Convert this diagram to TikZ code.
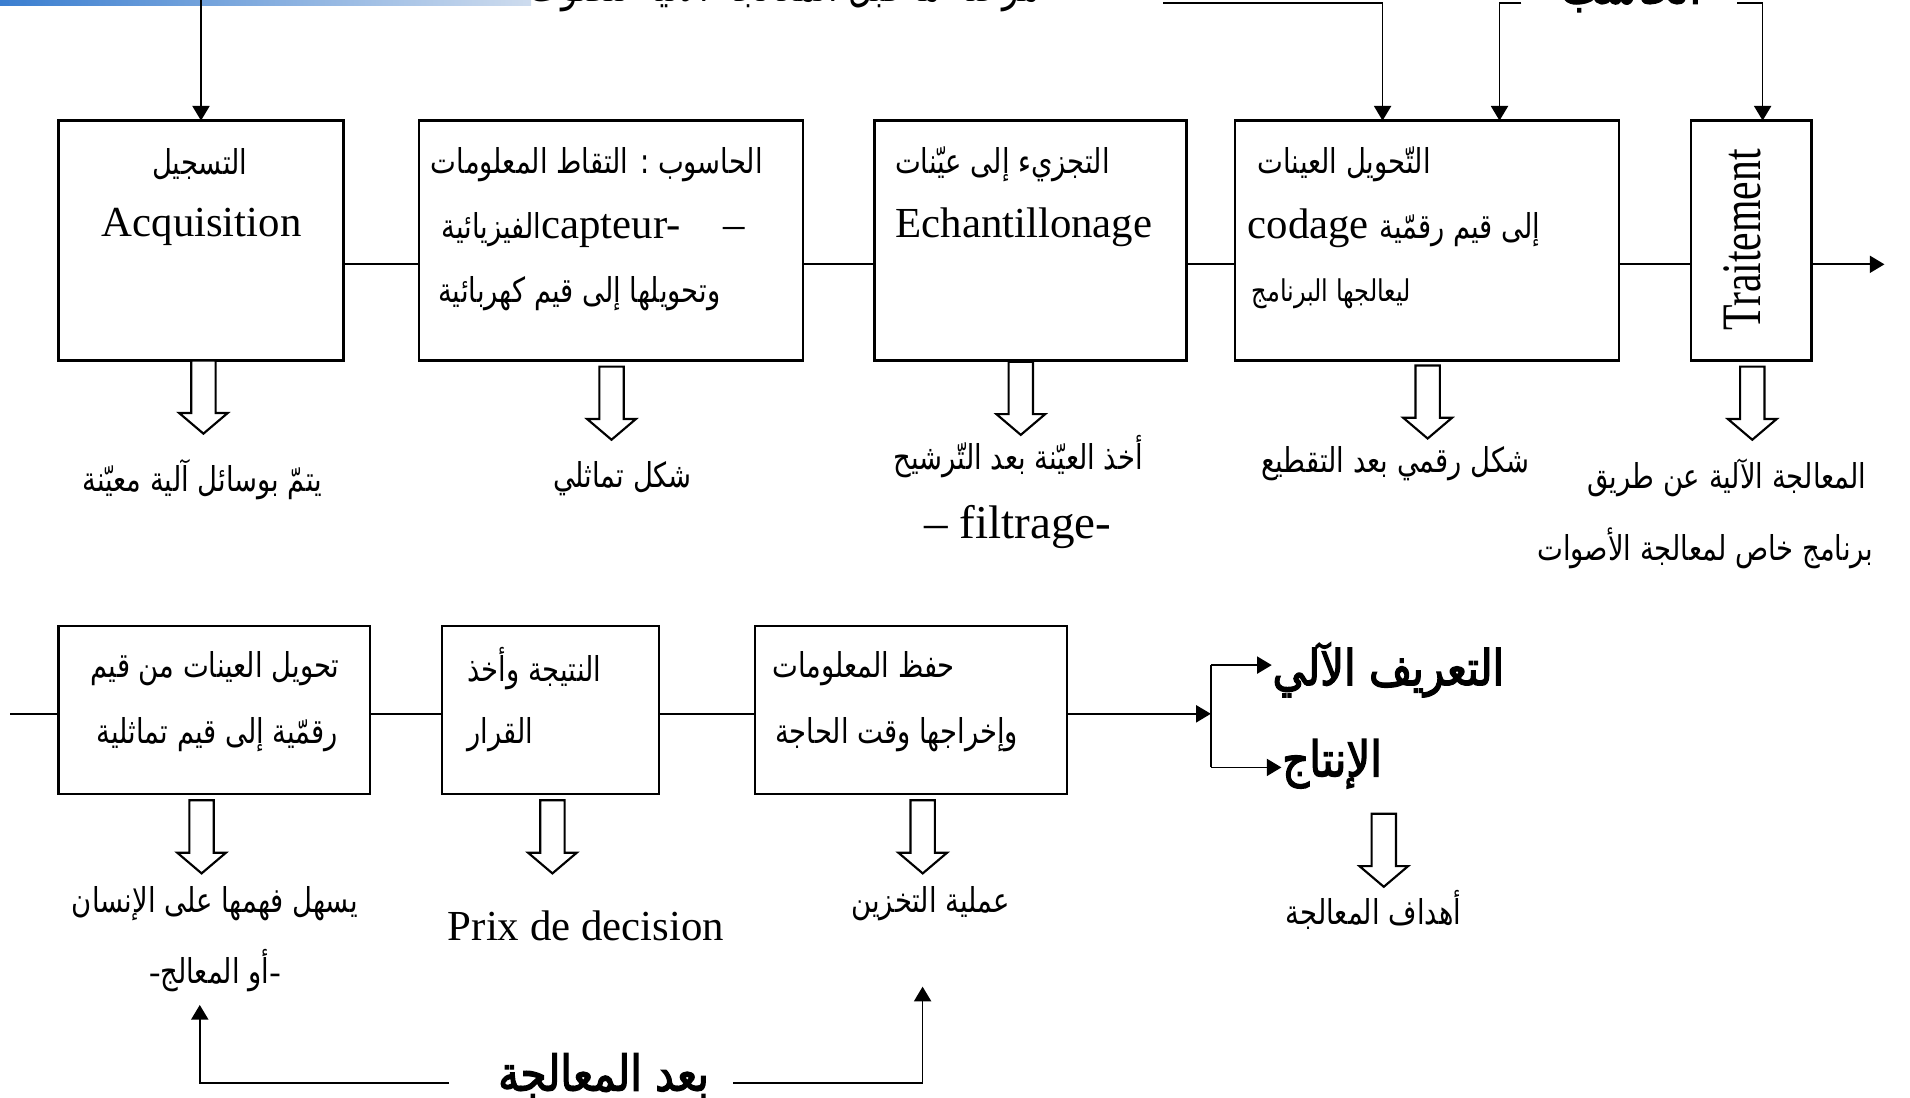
\documentclass[tikz,border=0pt]{standalone}
\usepackage{fontspec}
\setmainfont{Liberation Serif}
\newfontfamily\arabicfont[Script=Arabic,FakeStretch=0.8]{DejaVu Sans}
\newfontfamily\arabicbold[Script=Arabic,FakeBold=2.5,FakeStretch=0.85]{DejaVu Sans}
\newfontfamily\tallserif[FakeStretch=0.75]{Liberation Serif}
\TeXXeTstate=1
\usetikzlibrary{arrows.meta, calc}
\newcommand{\artxt}[1]{{\arabicfont\beginR #1\endR}}
\newcommand{\arbold}[1]{{\arabicbold\beginR #1\endR}}
\newcommand{\arsmall}[1]{{\fontsize{8}{10}\selectfont\artxt{#1}}}

\begin{document}
\begin{tikzpicture}[
    box/.style={draw, line width=0.55pt, inner sep=0pt, outer sep=0pt, minimum height=1.97cm},
    lowbox/.style={box, minimum height=1.38cm},
    arrow/.style={-{Triangle[length=1.2mm, width=1.4mm]}, line width=0.4pt},
    link/.style={line width=0.4pt},
    ar/.style={font=\fontsize{8}{10}\selectfont, inner sep=0pt},
    arb/.style={font=\fontsize{11.5}{13}\selectfont, inner sep=0pt},
    lat/.style={font=\fontsize{10}{12}\selectfont, inner sep=0pt, anchor=base},
    pics/hollowdown/.style={code={
      \draw[line width=0.5pt, fill=white] (-0.1,0) -- (-0.1,-0.43) -- (-0.2,-0.43)
        -- (0,-0.6) -- (0.2,-0.43) -- (0.1,-0.43) -- (0.1,0) -- cycle;}}
  ]
    \useasboundingbox (0,0) rectangle (15.68,-9.01);

    % window bar and the cut-off heading
    \shade[left color={rgb,255:red,58;green,126;blue,208}, right color={rgb,255:red,206;green,220;blue,238}]
      (0,0) rectangle (4.36,-0.047);
    \node[ar, anchor=base, font=\fontsize{10}{12}\selectfont] (head) at (6.44,-0.015)
      {\artxt{مرحلة ما قبل المعالجة الآلية للصوت}};
    \node[arb, anchor=base] (pc) at (13.39,-0.03) {\arbold{الحاسب}};

    % first row
    \node[box, minimum width=2.34cm] (acq)   at (1.65,-1.975)   {};
    \node[box, minimum width=3.15cm] (capt)  at (5.015,-1.975)  {};
    \node[box, minimum width=2.56cm] (ech)   at (8.46,-1.975)   {};
    \node[box, minimum width=3.15cm] (cod)   at (11.715,-1.975) {};
    \node[box, minimum width=0.99cm] (trait) at (14.375,-1.975) {};

    \node[ar]  (acq1) at (1.64,-1.35) {\artxt{التسجيل}};
    \node[lat] (acq2) at (1.655,-1.94) {Acquisition};

    \node[ar]  (capt1) at (4.90,-1.35) {\artxt{الحاسوب : التقاط المعلومات}};
    \node[lat] (capt2) at (4.87,-1.96) {\arsmall{الفيزيائية}capteur-\hspace{1em}–};
    \node[ar]  (capt3) at (4.755,-2.41) {\artxt{وتحويلها إلى قيم كهربائية}};

    \node[ar]  (ech1) at (8.23,-1.35) {\artxt{التجزيء إلى عيّنات}};
    \node[lat] (ech2) at (8.405,-1.95) {Echantillonage};

    \node[ar]  (cod1) at (11.035,-1.35) {\artxt{التّحويل العينات}};
    \node[lat] (cod2) at (11.445,-1.96) {codage \arsmall{إلى قيم رقمّية}};
    \node[ar, anchor=west, font=\fontsize{7}{9}\selectfont] (cod3) at (10.27,-2.41) {\artxt{ليعالجها البرنامج}};

    \node[font=\tallserif\fontsize{13}{15}\selectfont, rotate=90, inner sep=0pt] (trait1)
      at (14.30,-1.97) {Traitement};

    % links of the first row
    \coordinate (row1) at (0,-2.17);
    \draw[link] (acq.east |- row1) -- (capt.west |- row1);
    \draw[link] (capt.east |- row1) -- (ech.west |- row1);
    \draw[link] (ech.east |- row1) -- (cod.west |- row1);
    \draw[link] (cod.east |- row1) -- (trait.west |- row1);
    \coordinate (out1) at (15.47,-2.17);
    \draw[arrow] (trait.east |- row1) -- (out1);

    % feeds from the top
    \coordinate (feedA) at (1.65,0);
    \coordinate (feedL) at (9.55,-0.025);
    \coordinate (feedR1) at (12.49,-0.025);
    \coordinate (feedR2) at (14.26,-0.025);
    \draw[arrow] (feedA) -- (acq.north);
    \draw[arrow] (feedL) -| ([xshift=-3.65mm]cod.north);
    \draw[arrow] (feedR1) -| ([xshift=5.95mm]cod.north);
    \draw[arrow] (feedR2) -| ([xshift=0.95mm]trait.north);

    % results of the first row
    \pic (dA) at (1.67,-2.96)   {hollowdown};
    \pic (dB) at (5.02,-3.01)   {hollowdown};
    \pic (dC) at (8.38,-2.97)   {hollowdown};
    \pic (dD) at (11.72,-3.00)  {hollowdown};
    \pic (dE) at (14.385,-3.01) {hollowdown};

    \node[ar] (res1) at (1.66,-3.94)  {\artxt{يتمّ بوسائل آلية معيّنة}};
    \node[ar] (res2) at (5.11,-3.93)  {\artxt{شكل تماثلي}};
    \node[ar] (res3) at (8.36,-3.75)  {\artxt{أخذ العيّنة بعد التّرشيح}};
    \node[lat, font=\fontsize{11}{13}\selectfont] (res3b) at (8.355,-4.42) {– filtrage-};
    \node[ar] (res4) at (11.455,-3.81) {\artxt{شكل رقمي بعد التقطيع}};
    \node[ar] (res5) at (14.175,-3.92) {\artxt{المعالجة الآلية عن طريق}};
    \node[ar] (res5b) at (14.00,-4.50) {\artxt{برنامج خاص لمعالجة الأصوات}};

    % second row
    \node[lowbox, minimum width=2.56cm] (conv)  at (1.76,-5.83) {};
    \node[lowbox, minimum width=1.78cm] (dec)   at (4.52,-5.83) {};
    \node[lowbox, minimum width=2.56cm] (store) at (7.48,-5.83) {};

    \node[ar] (conv1) at (1.765,-5.49) {\artxt{تحويل العينات من قيم}};
    \node[ar] (conv2) at (1.785,-6.03) {\artxt{رقمّية إلى قيم تماثلية}};
    \node[ar, anchor=west] (dec1) at (3.83,-5.49) {\artxt{النتيجة وأخذ}};
    \node[ar, anchor=west] (dec2) at (3.83,-6.03) {\artxt{القرار}};
    \node[ar] (store1) at (7.09,-5.49) {\artxt{حفظ المعلومات}};
    \node[ar] (store2) at (7.36,-6.03) {\artxt{وإخراجها وقت الحاجة}};

    \coordinate (row2) at (0,-5.86);
    \coordinate (in2) at (0.086,-5.86);
    \draw[link] (in2) -- (conv.west |- row2);
    \draw[link] (conv.east |- row2) -- (dec.west |- row2);
    \draw[link] (dec.east |- row2) -- (store.west |- row2);

    % fork to the two aims
    \coordinate (fork) at (9.94,-5.86);
    \coordinate (forkT) at (9.94,-5.46);
    \coordinate (forkB) at (9.94,-6.30);
    \draw[arrow] (store.east |- row2) -- (fork);
    \draw[link] (forkT) -- (forkB);
    \node[arb, anchor=west] (recog) at (10.44,-5.50) {\arbold{التعريف الآلي}};
    \node[arb, anchor=west] (prod)  at (10.52,-6.27) {\arbold{الإنتاج}};
    \draw[arrow] (forkT) -- (forkT -| recog.west);
    \draw[arrow] (forkB) -- (forkB -| prod.west);
    \pic (dG) at (11.36,-6.68) {hollowdown};
    \node[ar] (aims) at (11.275,-7.47) {\artxt{أهداف المعالجة}};

    % results of the second row
    \pic (dF) at (1.655,-6.57) {hollowdown};
    \pic (dP) at (4.535,-6.57) {hollowdown};
    \pic (dS) at (7.575,-6.57) {hollowdown};

    \node[ar] (easy1) at (1.765,-7.42) {\artxt{يسهل فهمها على الإنسان}};
    \node[ar] (easy2) at (1.765,-7.97) {-\artxt{أو المعالج}-};
    \node[lat] (prix) at (4.81,-7.72) {Prix de decision};
    \node[ar] (keep) at (7.64,-7.42) {\artxt{عملية التخزين}};

    % after processing
    \node[arb] (after) at (4.955,-8.83) {\arbold{بعد المعالجة}};
    \coordinate (fbL) at (3.686,-8.89);
    \coordinate (fbR) at (6.02,-8.89);
    \coordinate (upL) at (1.64,-8.25);
    \coordinate (upR) at (7.574,-8.10);
    \draw[arrow] (fbL) -| (upL);
    \draw[arrow] (fbR) -| (upR);
\end{tikzpicture}
\end{document}
